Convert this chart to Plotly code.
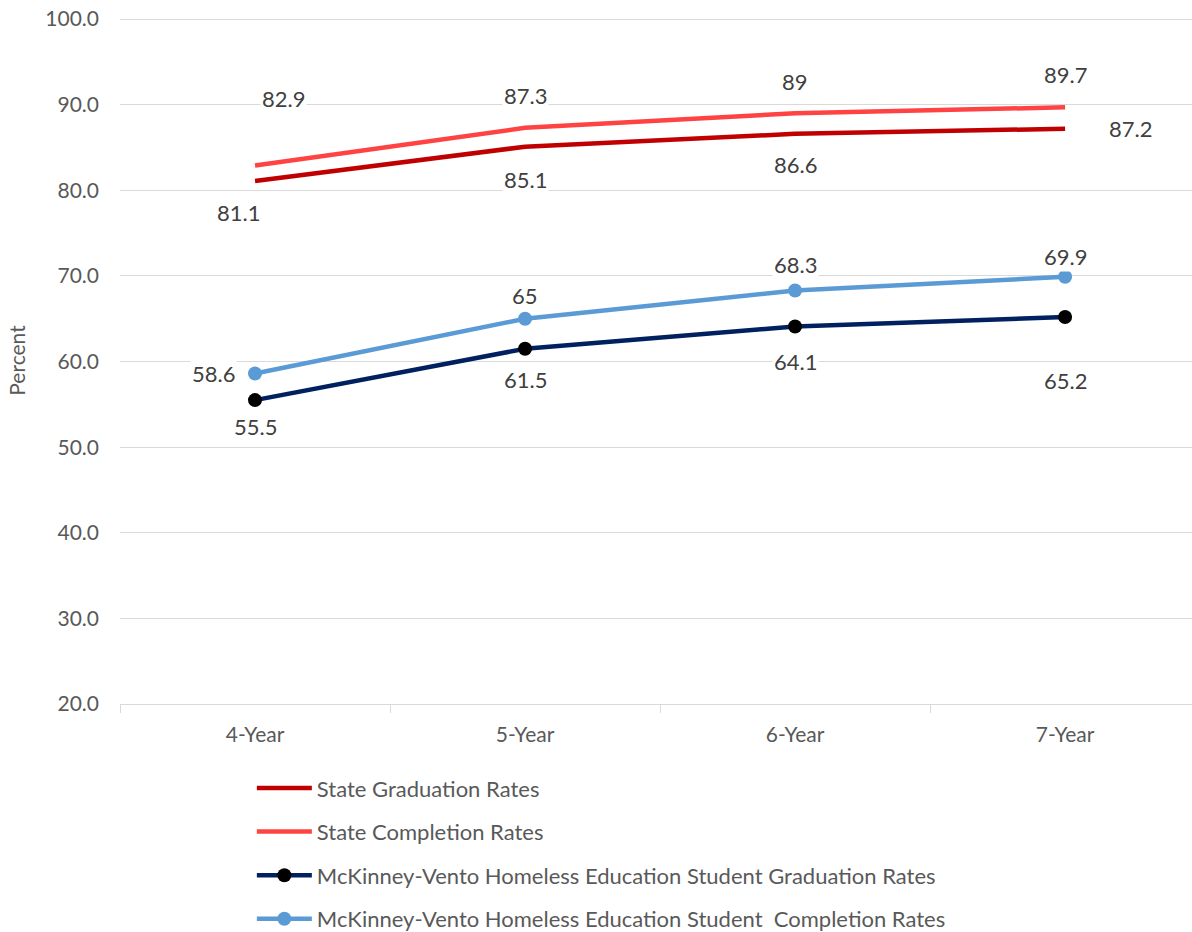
import plotly.graph_objects as go

categories = ["4-Year", "5-Year", "6-Year", "7-Year"]
state_grad = [81.1, 85.1, 86.6, 87.2]
state_comp = [82.9, 87.3, 89, 89.7]
mv_grad = [55.5, 61.5, 64.1, 65.2]
mv_comp = [58.6, 65, 68.3, 69.9]
y_ticks = [20, 30, 40, 50, 60, 70, 80, 90, 100]

names = [
    "State Graduation Rates",
    "State Completion Rates",
    "McKinney-Vento Homeless Education Student Graduation Rates",
    "McKinney-Vento Homeless Education Student  Completion Rates",
]

# label offsets in pixels (x, y) for each series point - layout only
offsets = {
    0: [(-17, -32), (0, -33), (0, -31), (65, 0)],
    1: [(28, 67), (0, 32), (0, 32), (0, 33)],
    2: [(0, -26), (0, -31), (0, -35), (0, -63)],
    3: [(-42, 0), (0, 23), (0, 26), (0, 20)],
}

series = [state_grad, state_comp, mv_grad, mv_comp]
colors = ["#C00000", "#FF4343", "#002060", "#5B9BD5"]
txt = "#595959"
font_family = "Lato"

fig = go.Figure()
for i, (vals, name, col) in enumerate(zip(series, names, colors)):
    if i < 2:
        fig.add_trace(go.Scatter(
            x=categories, y=vals, name=name, mode="lines",
            line=dict(color=col, width=4.5),
            legendgroup=str(i),
        ))
    else:
        mcol = "#000000" if i == 2 else col
        fig.add_trace(go.Scatter(
            x=categories, y=vals, name=name, mode="lines+markers",
            line=dict(color=col, width=4.5),
            marker=dict(color=mcol, size=14),
            legendgroup=str(i),
        ))

annotations = []
for i, vals in enumerate(series):
    for j, (c, v) in enumerate(zip(categories, vals)):
        dx, dy = offsets[i][j]
        annotations.append(dict(
            x=c, y=v, xref="x", yref="y", text=str(v), showarrow=False,
            xshift=dx, yshift=dy, bgcolor="white",
            font=dict(family=font_family, size=22, color="#404040"),
        ))

fig.update_layout(
    width=1192, height=932,
    margin=dict(l=120, r=0, t=17, b=228, autoexpand=False),
    paper_bgcolor="white", plot_bgcolor="white",
    font=dict(family=font_family, size=21, color=txt),
    annotations=annotations,
    showlegend=True,
    legend=dict(
        x=0.123, xanchor="left", y=-0.092, yanchor="top",
        traceorder="grouped", tracegroupgap=12,
        itemwidth=55,
        font=dict(family=font_family, size=22, color=txt),
        bgcolor="rgba(0,0,0,0)",
    ),
    xaxis=dict(
        type="category", range=[-0.5, 3.47], automargin=False,
        showgrid=False, showline=True, linecolor="#D9D9D9", linewidth=1,
        ticks="outside", tickson="boundaries", ticklen=8, tickcolor="#D9D9D9",
        tickfont=dict(family=font_family, size=21, color=txt),
        ticklabelstandoff=12,
    ),
    yaxis=dict(
        range=[20, 100.25], tickmode="array", tickvals=y_ticks,
        ticktext=[f"{t:.1f}" for t in y_ticks], automargin=False,
        ticklabeloverflow="allow",
        showgrid=True, gridcolor="#D9D9D9", gridwidth=1, zeroline=False,
        showline=False,
        tickfont=dict(family=font_family, size=21, color=txt),
        ticklabelstandoff=20,
        title=dict(text="Percent", font=dict(family=font_family, size=21, color=txt), standoff=13),
    ),
)

fig.write_html(
    "out.html",
    config={"displayModeBar": False},
    post_script="document.body.style.margin='0';document.body.style.overflow='hidden';",
)
